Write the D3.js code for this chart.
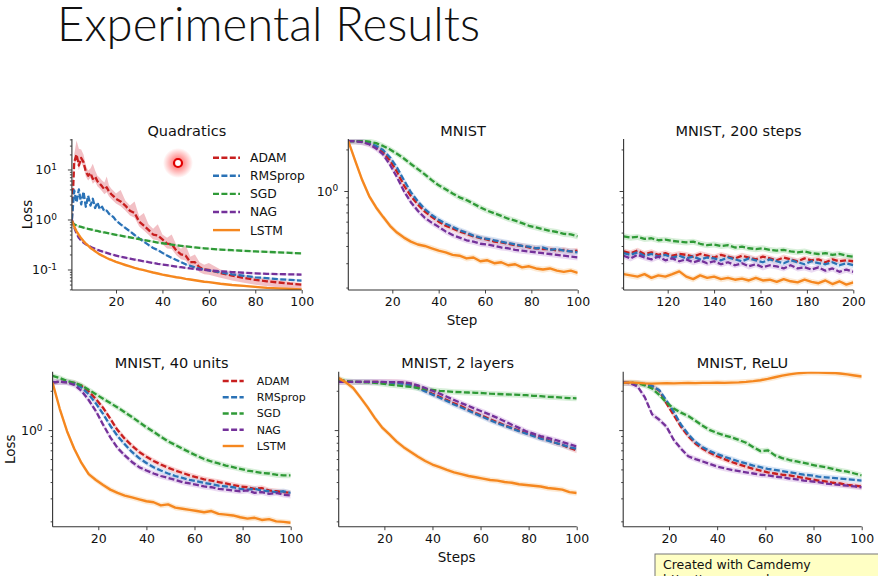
<!DOCTYPE html>
<html><head><meta charset="utf-8">
<script src="https://cdn.jsdelivr.net/npm/d3@7"></script>
<style>
body{margin:0;background:#fff}
svg{display:block}
text{font-family:"DejaVu Sans",sans-serif;fill:#111}
</style>
</head><body>
<svg id="c" width="878" height="576"></svg>
<script>
// ---------------- data ----------------
const seriesNames = ["ADAM","RMSprop","SGD","NAG","LSTM"];
const panelTitles = ["Quadratics","MNIST","MNIST, 200 steps","MNIST, 40 units","MNIST, 2 layers","MNIST, ReLU"];
const xTicks100 = [20,40,60,80,100];
const xTicks200 = [120,140,160,180,200];
const yDomainQuad = [0.0389,40.7];
const yDomainTop = [0.192,2.38];
const yDomainBottom = [0.182,2.80];
const yMajorQuad = [0.1,1,10];
const yMajorQuadLabels = ["-1","0","1"];
const yMajorMnist = [1];
const yMajorMnistLabels = ["0"];

const stepsQuad = [1,2,3,4,5,6,7,8,9,10,11,12,13,14,15,16,17,18,19,20,22,24,26,28,30,32,34,36,38,40,42,44,46,48,50,52,54,56,58,60,65,70,75,80,85,90,95,100];
const quadADAM = [1.0,14,20,12,17,14,9,7.5,8.5,6.5,7.2,5.8,5.2,4.6,4.0,4.4,3.6,3.2,2.9,2.6,2.3,1.9,1.5,1.35,0.9,0.75,0.62,0.5,0.48,0.4,0.33,0.32,0.24,0.2,0.19,0.14,0.14,0.11,0.1,0.098,0.085,0.075,0.068,0.062,0.058,0.055,0.052,0.05];
const quadADAMHigh = [1.2,20,38,26,25,20,12,9.5,10.5,13,9.5,7.5,6.8,6.0,5.5,7.2,4.8,4.1,3.7,3.3,3.9,2.4,1.9,2.3,1.15,1.35,0.8,0.65,0.8,0.5,0.43,0.5,0.31,0.26,0.31,0.18,0.2,0.14,0.125,0.135,0.1,0.088,0.078,0.07,0.065,0.061,0.057,0.054];
const quadRMS = [1.0,3.8,2.2,4.0,2.0,3.6,1.8,3.0,1.9,2.6,1.7,2.2,1.6,1.8,1.45,1.5,1.3,1.2,1.1,0.95,0.8,0.68,0.58,0.49,0.42,0.36,0.31,0.27,0.245,0.215,0.19,0.17,0.155,0.14,0.127,0.118,0.11,0.104,0.1,0.096,0.088,0.08,0.075,0.07,0.067,0.064,0.062,0.06];
const quadSGD = [0.9,0.8,0.76,0.73,0.71,0.69,0.67,0.65,0.635,0.62,0.6,0.59,0.575,0.56,0.55,0.54,0.53,0.515,0.505,0.495,0.475,0.455,0.44,0.42,0.405,0.39,0.375,0.36,0.345,0.335,0.325,0.315,0.305,0.298,0.29,0.283,0.276,0.27,0.265,0.26,0.25,0.243,0.236,0.23,0.225,0.22,0.215,0.21];
const quadNAG = [1.0,0.7,0.52,0.43,0.38,0.345,0.32,0.3,0.285,0.27,0.258,0.248,0.238,0.23,0.222,0.215,0.208,0.2,0.195,0.19,0.18,0.172,0.165,0.158,0.152,0.146,0.14,0.135,0.13,0.126,0.122,0.118,0.114,0.111,0.108,0.105,0.103,0.1,0.098,0.096,0.092,0.089,0.086,0.084,0.082,0.081,0.08,0.079];
const quadLSTM = [0.95,0.72,0.58,0.49,0.42,0.37,0.33,0.3,0.27,0.25,0.232,0.215,0.2,0.19,0.18,0.17,0.162,0.155,0.148,0.142,0.132,0.123,0.115,0.108,0.102,0.097,0.092,0.087,0.083,0.079,0.076,0.073,0.07,0.068,0.065,0.063,0.061,0.059,0.057,0.056,0.052,0.049,0.047,0.045,0.043,0.042,0.041,0.04];

const stepsMnist = [1,4,7,10,13,16,19,22,25,28,31,34,37,40,43,46,49,52,55,58,61,64,67,70,73,76,79,82,85,88,91,94,97,100];
const mnistADAM = [2.3,2.3,2.27,2.2,2.08,1.92,1.66,1.38,1.1,0.92,0.8,0.71,0.65,0.6,0.56,0.535,0.51,0.49,0.47,0.455,0.445,0.43,0.425,0.415,0.405,0.4,0.39,0.385,0.38,0.38,0.37,0.375,0.365,0.37];
const mnistRMS = [2.3,2.3,2.28,2.22,2.12,1.98,1.75,1.48,1.2,0.98,0.84,0.74,0.67,0.62,0.58,0.55,0.52,0.5,0.475,0.46,0.45,0.44,0.43,0.42,0.41,0.4,0.395,0.385,0.39,0.375,0.38,0.37,0.365,0.36];
const mnistSGD = [2.3,2.3,2.3,2.28,2.22,2.12,2.0,1.86,1.72,1.57,1.44,1.32,1.2,1.1,1.03,0.96,0.9,0.86,0.81,0.76,0.72,0.69,0.66,0.63,0.61,0.585,0.56,0.545,0.53,0.515,0.505,0.49,0.485,0.47];
const mnistNAG = [2.3,2.3,2.26,2.18,2.03,1.84,1.55,1.26,1.0,0.83,0.72,0.64,0.59,0.55,0.51,0.48,0.46,0.44,0.43,0.415,0.41,0.4,0.39,0.385,0.375,0.37,0.365,0.36,0.355,0.35,0.345,0.34,0.335,0.33];
const mnistLSTM = [2.3,1.65,1.2,0.92,0.76,0.65,0.56,0.5,0.46,0.43,0.41,0.4,0.385,0.37,0.36,0.345,0.34,0.325,0.33,0.31,0.315,0.3,0.305,0.29,0.295,0.28,0.285,0.275,0.27,0.275,0.265,0.26,0.265,0.255];

const steps200 = [101,104,107,110,113,116,119,122,125,128,131,134,137,140,143,146,149,152,155,158,161,164,167,170,173,176,179,182,185,188,191,194,197,200];
const s200ADAM = [0.365,0.355,0.37,0.35,0.36,0.345,0.355,0.34,0.35,0.345,0.335,0.35,0.34,0.33,0.345,0.335,0.325,0.34,0.33,0.32,0.335,0.325,0.315,0.33,0.32,0.31,0.325,0.315,0.32,0.305,0.32,0.31,0.315,0.31];
const s200RMS = [0.355,0.345,0.36,0.34,0.35,0.335,0.345,0.33,0.34,0.325,0.335,0.32,0.33,0.325,0.315,0.33,0.32,0.31,0.325,0.315,0.305,0.32,0.31,0.3,0.315,0.305,0.295,0.31,0.3,0.295,0.305,0.29,0.3,0.29];
const s200SGD = [0.47,0.46,0.465,0.45,0.455,0.44,0.445,0.435,0.43,0.425,0.43,0.415,0.405,0.41,0.4,0.405,0.39,0.395,0.385,0.38,0.385,0.375,0.37,0.375,0.365,0.36,0.365,0.355,0.35,0.355,0.345,0.35,0.34,0.335];
const s200NAG = [0.34,0.325,0.345,0.33,0.32,0.335,0.315,0.325,0.31,0.32,0.305,0.315,0.3,0.31,0.295,0.305,0.29,0.3,0.285,0.295,0.28,0.29,0.285,0.275,0.29,0.275,0.28,0.27,0.28,0.265,0.275,0.26,0.27,0.26];
const s200LSTM = [0.25,0.245,0.24,0.25,0.235,0.245,0.24,0.25,0.262,0.24,0.23,0.245,0.235,0.24,0.23,0.235,0.228,0.232,0.225,0.235,0.225,0.228,0.22,0.23,0.222,0.218,0.228,0.22,0.215,0.225,0.212,0.222,0.21,0.218];

const u40ADAM = [2.32,2.34,2.33,2.3,2.18,1.98,1.73,1.48,1.22,1.0,0.86,0.76,0.68,0.625,0.58,0.545,0.515,0.49,0.47,0.45,0.435,0.42,0.41,0.4,0.39,0.38,0.37,0.365,0.355,0.36,0.345,0.34,0.335,0.33];
const u40RMS = [2.32,2.34,2.33,2.28,2.12,1.88,1.6,1.33,1.08,0.9,0.78,0.68,0.61,0.56,0.52,0.49,0.465,0.445,0.43,0.415,0.405,0.395,0.385,0.375,0.37,0.365,0.355,0.35,0.355,0.345,0.34,0.335,0.34,0.33];
const u40SGD = [2.6,2.5,2.38,2.3,2.2,2.04,1.88,1.74,1.61,1.49,1.37,1.26,1.15,1.05,0.97,0.89,0.82,0.77,0.72,0.675,0.635,0.6,0.575,0.555,0.535,0.52,0.505,0.49,0.48,0.47,0.465,0.455,0.45,0.45];
const u40NAG = [2.32,2.34,2.32,2.22,2.0,1.7,1.4,1.1,0.88,0.73,0.64,0.57,0.52,0.49,0.465,0.445,0.43,0.415,0.4,0.39,0.38,0.37,0.365,0.355,0.35,0.345,0.34,0.345,0.33,0.335,0.325,0.33,0.32,0.315];
const u40LSTM = [2.3,1.45,0.98,0.72,0.56,0.46,0.415,0.38,0.35,0.33,0.315,0.305,0.295,0.285,0.28,0.265,0.27,0.255,0.25,0.245,0.24,0.235,0.24,0.228,0.225,0.222,0.215,0.21,0.213,0.205,0.208,0.2,0.198,0.195];

const l2ADAM = [2.34,2.34,2.34,2.34,2.34,2.34,2.33,2.33,2.32,2.3,2.24,2.14,2.02,1.9,1.8,1.7,1.6,1.52,1.43,1.35,1.28,1.21,1.15,1.09,1.04,0.99,0.95,0.91,0.87,0.84,0.8,0.77,0.73,0.7];
const l2RMS = [2.34,2.34,2.34,2.34,2.34,2.33,2.32,2.31,2.29,2.26,2.2,2.1,1.98,1.87,1.77,1.67,1.57,1.49,1.41,1.33,1.26,1.19,1.13,1.08,1.03,0.98,0.94,0.9,0.86,0.83,0.8,0.77,0.74,0.72];
const l2SGD = [2.45,2.38,2.34,2.33,2.32,2.3,2.27,2.23,2.2,2.17,2.14,2.1,2.06,2.03,2.0,1.98,1.96,1.95,1.94,1.93,1.92,1.9,1.89,1.88,1.87,1.86,1.85,1.83,1.82,1.8,1.79,1.77,1.76,1.75];
const l2NAG = [2.34,2.34,2.34,2.34,2.34,2.34,2.34,2.33,2.33,2.32,2.28,2.2,2.1,2.0,1.9,1.8,1.7,1.61,1.53,1.45,1.38,1.31,1.24,1.17,1.1,1.04,0.98,0.94,0.9,0.87,0.84,0.81,0.78,0.75];
const l2LSTM = [2.5,2.32,2.1,1.78,1.5,1.24,1.05,0.93,0.82,0.74,0.68,0.625,0.58,0.545,0.52,0.495,0.475,0.46,0.445,0.435,0.425,0.415,0.41,0.4,0.395,0.385,0.38,0.375,0.37,0.36,0.355,0.35,0.335,0.33];

const reADAM = [2.3,2.3,2.28,2.24,2.18,2.0,1.6,1.3,1.06,0.9,0.79,0.72,0.67,0.63,0.6,0.57,0.545,0.525,0.505,0.49,0.475,0.465,0.455,0.45,0.44,0.43,0.42,0.41,0.405,0.395,0.39,0.38,0.375,0.37];
const reRMS = [2.3,2.3,2.28,2.24,2.18,2.02,1.68,1.38,1.1,0.93,0.81,0.74,0.69,0.655,0.625,0.6,0.575,0.555,0.535,0.52,0.505,0.495,0.485,0.475,0.465,0.455,0.45,0.44,0.435,0.43,0.425,0.42,0.415,0.41];
const reSGD = [2.3,2.3,2.28,2.2,2.08,1.86,1.62,1.46,1.36,1.28,1.18,1.08,1.0,0.95,0.91,0.88,0.84,0.8,0.74,0.69,0.7,0.64,0.61,0.59,0.575,0.56,0.545,0.53,0.52,0.505,0.49,0.48,0.465,0.45];
const reNAG = [2.32,2.28,2.15,1.78,1.32,1.2,1.06,0.84,0.72,0.63,0.6,0.575,0.55,0.525,0.51,0.495,0.485,0.475,0.465,0.455,0.45,0.44,0.435,0.425,0.42,0.41,0.405,0.4,0.39,0.385,0.38,0.375,0.37,0.365];
const reLSTM = [2.3,2.32,2.3,2.28,2.27,2.28,2.29,2.28,2.29,2.3,2.29,2.3,2.3,2.31,2.3,2.31,2.32,2.34,2.37,2.41,2.47,2.54,2.61,2.67,2.72,2.75,2.77,2.76,2.75,2.74,2.71,2.67,2.62,2.57];

// ---------------- styles / layout ----------------
const colors = ["#c81f1f","#2a72b6","#2f9a37","#74319a","#f5871f"];
const bandColors = ["#f2a0a0","#a9c8ea","#a8dcaa","#d3b0e3","#fbd0a0"];
const dash = "6,2.4";
const bandSpread = 0.05;

const panels = [
  {steps:stepsQuad, data:[quadADAM,quadRMS,quadSGD,quadNAG,quadLSTM], xd:[1,100], yd:yDomainQuad, xt:xTicks100,
   majors:yMajorQuad, majorLabels:yMajorQuadLabels, labelGap:11, box:[71.9,301.7,139,290], ylabX:27.5, legend:{x:213,y:157.7,dy:18.1,len:27,tx:250,fs:12.3}, xlab:null, highBand:quadADAMHigh},
  {steps:stepsMnist, data:[mnistADAM,mnistRMS,mnistSGD,mnistNAG,mnistLSTM], xd:[1,100], yd:yDomainTop, xt:xTicks100,
   majors:yMajorMnist, majorLabels:yMajorMnistLabels, labelGap:6, box:[348.3,577.7,139,290], xlab:"Step"},
  {steps:steps200, data:[s200ADAM,s200RMS,s200SGD,s200NAG,s200LSTM], xd:[101,200], yd:yDomainTop, xt:xTicks200,
   majors:yMajorMnist, majorLabels:null, box:[623.6,853.3,139,290]},
  {steps:stepsMnist, data:[u40ADAM,u40RMS,u40SGD,u40NAG,u40LSTM], xd:[1,100], yd:yDomainBottom, xt:xTicks100,
   majors:yMajorMnist, majorLabels:yMajorMnistLabels, labelGap:6, box:[52.6,290.7,371.7,526.7], ylabX:10.5, legend:{x:222.7,y:381,dy:16.25,len:21,tx:256.7,fs:11}},
  {steps:stepsMnist, data:[l2ADAM,l2RMS,l2SGD,l2NAG,l2LSTM], xd:[1,100], yd:yDomainBottom, xt:xTicks100,
   majors:yMajorMnist, majorLabels:null, box:[338.7,576.7,371.7,526.7], xlab:"Steps"},
  {steps:stepsMnist, data:[reADAM,reRMS,reSGD,reNAG,reLSTM], xd:[1,100], yd:yDomainBottom, xt:xTicks100,
   majors:yMajorMnist, majorLabels:null, box:[623.2,861.7,371.7,526.7]}
];

const svg = d3.select("#c");
const defs = svg.append("defs");

// main title
svg.append("text").attr("x",57).attr("y",41)
  .attr("textLength",423).attr("lengthAdjust","spacingAndGlyphs")
  .style("font-family","Lato, 'Open Sans', sans-serif").style("font-weight",300)
  .style("font-size","47px").style("fill","#111").text("Experimental Results");

function minorTicks(dom){
  const out=[];
  const lo=Math.floor(Math.log10(dom[0])), hi=Math.ceil(Math.log10(dom[1]));
  for(let e=lo;e<=hi;e++){
    for(let m=2;m<=9;m++){const v=m*Math.pow(10,e); if(v>=dom[0]&&v<=dom[1]) out.push(v);}
  }
  return out;
}

panels.forEach((p,i)=>{
  const [x0,x1,yT,yB]=p.box;
  const x=d3.scaleLinear().domain(p.xd).range([x0,x1]);
  const y=d3.scaleLog().domain(p.yd).range([yB,yT]);
  const g=svg.append("g");
  const cid="clip"+i;
  defs.append("clipPath").attr("id",cid).append("rect")
    .attr("x",x0).attr("y",yT).attr("width",x1-x0).attr("height",yB-yT);
  const plot=g.append("g").attr("clip-path",`url(#${cid})`);

  // bands
  p.data.forEach((vals,si)=>{
    const special = si===0 && p.highBand;
    const rows=vals.map((v,k)=>({s:p.steps[k],v,hi:special?p.highBand[k]:v*(1+bandSpread)}));
    const lowF = special?0.8:(1-bandSpread);
    const area=d3.area().x(d=>x(d.s)).y0(d=>y(d.v*lowF)).y1(d=>y(d.hi));
    plot.append("path").datum(rows).attr("d",area)
      .attr("fill",special?"#efb0b6":bandColors[si])
      .attr("opacity",special?0.8:0.45);
  });
  // lines
  p.data.forEach((vals,si)=>{
    const rows=vals.map((v,k)=>({s:p.steps[k],v}));
    const line=d3.line().x(d=>x(d.s)).y(d=>y(d.v));
    plot.append("path").datum(rows).attr("d",line)
      .attr("fill","none").attr("stroke",colors[si])
      .attr("stroke-width",si===4?2.4:2.3)
      .attr("stroke-dasharray",si===4?null:dash)
      .attr("stroke-linejoin","round");
  });

  // axes
  const xa=d3.axisBottom(x).tickValues(p.xt).tickSize(3.5).tickPadding(4).tickFormat(d3.format("d"));
  const gx=g.append("g").attr("transform",`translate(0,${yB})`).call(xa);
  gx.select(".domain").remove();
  gx.selectAll("line").attr("stroke","#444");
  gx.selectAll("text").style("font-size","12.5px").style("font-family","'DejaVu Sans',sans-serif").attr("fill","#111");

  const ya=d3.axisLeft(y).tickValues(p.majors).tickSize(4).tickPadding(p.labelGap||3).tickFormat(()=> "10");
  const gy=g.append("g").attr("transform",`translate(${x0},0)`).call(ya);
  gy.select(".domain").remove();
  gy.selectAll("line").attr("stroke","#444");
  if(p.majorLabels){
    gy.selectAll("text").style("font-size","12.5px").style("font-family","'DejaVu Sans',sans-serif").attr("fill","#111")
      .attr("text-anchor","end")
      .each(function(d,k){
        const t=d3.select(this);
        t.append("tspan").attr("dy","-0.45em").style("font-size","9px").text(p.majorLabels[k]);
      });
  } else {
    gy.selectAll("text").remove();
  }
  const yam=d3.axisLeft(y).tickValues(minorTicks(p.yd)).tickSize(2).tickFormat("");
  const gym=g.append("g").attr("transform",`translate(${x0},0)`).call(yam);
  gym.select(".domain").remove();
  gym.selectAll("line").attr("stroke","#444");

  // spines
  g.append("line").attr("x1",x0).attr("x2",x0).attr("y1",yT).attr("y2",yB).attr("stroke","#333").attr("stroke-width",1.1);
  g.append("line").attr("x1",x0).attr("x2",x1).attr("y1",yB).attr("y2",yB).attr("stroke","#333").attr("stroke-width",1.1);

  // title
  g.append("text").attr("x",(x0+x1)/2).attr("y",yT-3.5).attr("text-anchor","middle")
    .style("font-size","14.5px").text(panelTitles[i]);

  if(p.ylabX){
    g.append("text").attr("transform",`translate(${p.ylabX},${(yT+yB)/2}) rotate(-90)`)
      .attr("text-anchor","middle").attr("dy","0.36em").style("font-size","13.5px").text("Loss");
  }
  if(p.xlab){
    g.append("text").attr("x",(x0+x1)/2 - 1).attr("y",yB+35).attr("text-anchor","middle")
      .style("font-size","13.5px").text(p.xlab);
  }
  if(p.legend){
    const L=p.legend;
    seriesNames.forEach((n,si)=>{
      const yy=L.y+si*L.dy;
      g.append("line").attr("x1",L.x).attr("x2",L.x+L.len).attr("y1",yy).attr("y2",yy)
        .attr("stroke",colors[si]).attr("stroke-width",2.4)
        .attr("stroke-dasharray",si===4?null:dash);
      g.append("text").attr("x",L.tx).attr("y",yy).attr("dy","0.36em")
        .style("font-size",L.fs+"px").text(n);
    });
  }
});

// recording cursor marker
const rg=defs.append("radialGradient").attr("id","glow");
rg.append("stop").attr("offset","0%").attr("stop-color","#ff2020").attr("stop-opacity",0.75);
rg.append("stop").attr("offset","100%").attr("stop-color","#ff2020").attr("stop-opacity",0);
svg.append("circle").attr("cx",178).attr("cy",163).attr("r",15).attr("fill","url(#glow)");
svg.append("circle").attr("cx",178).attr("cy",163).attr("r",4).attr("fill","#fff").attr("stroke","#e00000").attr("stroke-width",2.2);

// camdemy box
svg.append("rect").attr("x",655).attr("y",554).attr("width",240).attr("height",40)
  .attr("fill","#ffffc4").attr("stroke","#777").attr("stroke-width",1);
svg.append("text").attr("x",663).attr("y",569).style("font-size","12.5px").text("Created with Camdemy");
svg.append("text").attr("x",663).attr("y",584).style("font-size","12.5px").text("http://www.camdemy.com");
</script>
</body></html>
